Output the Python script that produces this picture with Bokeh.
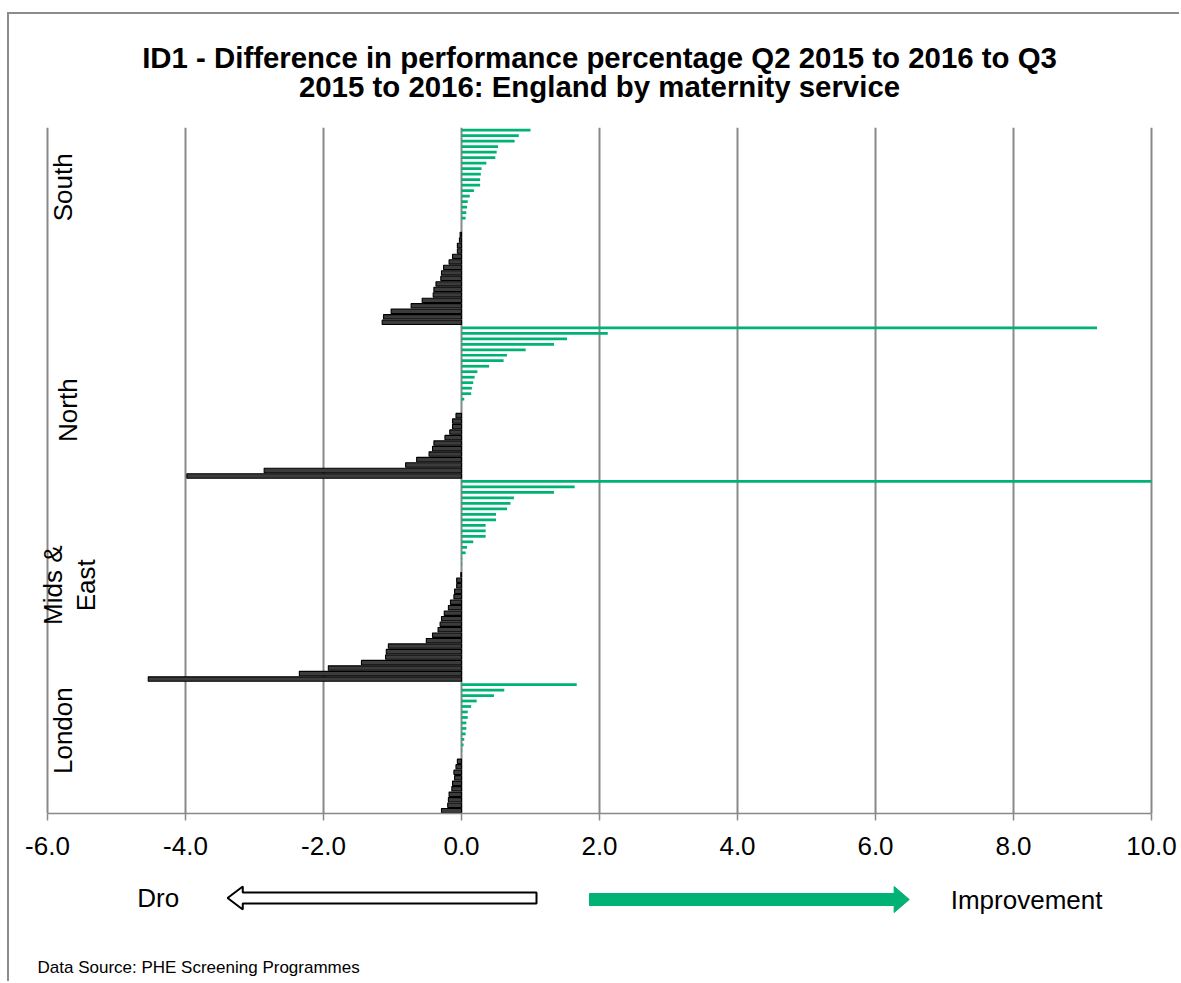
from math import pi
from bokeh.plotting import figure
from bokeh.layouts import column
from bokeh.models import Range1d, FixedTicker, PrintfTickFormatter, ColumnDataSource
from bokeh.core.properties import value
from bokeh.embed import file_html
from bokeh.resources import INLINE

# ---------------- data (top to bottom within each region) ----------------
regions = ["South", "North", "Mids &\nEast", "London"]
south = [1.00, 0.83, 0.77, 0.53, 0.51, 0.49, 0.36, 0.29, 0.28, 0.27, 0.27, 0.18,
         0.12, 0.09, 0.08, 0.07, 0.06, 0.0, 0.0, -0.02, -0.03, -0.06, -0.06, -0.13,
         -0.18, -0.26, -0.29, -0.30, -0.37, -0.40, -0.41, -0.57, -0.73, -1.02,
         -1.13, -1.15]
north = [9.21, 2.12, 1.53, 1.34, 0.93, 0.66, 0.61, 0.40, 0.23, 0.19, 0.17, 0.15,
         0.14, 0.04, 0.0, 0.0, -0.08, -0.13, -0.13, -0.17, -0.24, -0.40, -0.42,
         -0.47, -0.65, -0.81, -2.86, -3.98]
mids = [10.0, 1.64, 1.34, 0.76, 0.71, 0.66, 0.50, 0.50, 0.35, 0.35, 0.35, 0.17,
        0.08, 0.06, 0.01, 0.01, 0.0, -0.01, -0.07, -0.07, -0.10, -0.11, -0.16,
        -0.19, -0.25, -0.29, -0.31, -0.34, -0.42, -0.51, -1.06, -1.09, -1.10,
        -1.45, -1.93, -2.35, -4.54]
london = [1.67, 0.62, 0.47, 0.22, 0.14, 0.09, 0.09, 0.07, 0.07, 0.06, 0.04, 0.03,
          0.01, 0.0, -0.06, -0.08, -0.11, -0.10, -0.13, -0.14, -0.18, -0.19,
          -0.20, -0.29]
region_label_pos = [10.4, 51.0, 82.9, 109.4]     # bar-slot where each region name sits
x_ticks = [-6, -4, -2, 0, 2, 4, 6, 8, 10]

title_lines = ["ID1 - Difference in performance percentage Q2 2015 to 2016 to Q3",
               "2015 to 2016: England by maternity service"]
left_note = "Dro"
right_note = "Improvement"
source_text = "Data Source: PHE Screening Programmes"

# ---------------- build ----------------
values = south + north + mids + london
n = len(values)
idx = list(range(n))
pos_src = ColumnDataSource(dict(y=[i for i, v in zip(idx, values) if v > 0],
                                right=[v for v in values if v > 0]))
neg_src = ColumnDataSource(dict(y=[i for i, v in zip(idx, values) if v < 0],
                                right=[v for v in values if v < 0]))

FONT = "Liberation Sans"
GREEN = "#00B274"
GRID = "#898989"

W = 1170
XMIN, XMAX = -6, 10
PPU = 69.0                                   # pixels per x unit
xr = Range1d(XMIN - 38 / PPU, XMIN + (W - 38) / PPU)   # shared by all panels


def blank(height):
    f = figure(width=W, height=height, x_range=xr, y_range=Range1d(0, height),
               output_backend="svg", toolbar_location=None,
               min_border_left=0, min_border_right=0,
               min_border_top=0, min_border_bottom=0)
    f.axis.visible = False
    f.grid.visible = False
    f.outline_line_color = None
    f.background_fill_color = "white"
    f.border_fill_color = "white"
    return f


# ---------------- header: title ----------------
H0 = 100
p0 = blank(H0)
p0.text(x=[(XMIN + XMAX) / 2] * 2, y=[57, 28], text=title_lines,
        text_align="center", text_baseline="middle",
        text_font=value(FONT), text_font_style="bold",
        text_font_size="29.4px", text_color="black")

# ---------------- main chart ----------------
p = figure(width=W, height=751, x_range=xr, y_range=Range1d(n - 0.5, -0.5),
           output_backend="svg", toolbar_location=None,
           min_border_left=0, min_border_right=0,
           min_border_top=13, min_border_bottom=52)
p.background_fill_color = "white"
p.border_fill_color = "white"
p.outline_line_color = None

p.yaxis.visible = False
p.ygrid.visible = False

p.xaxis.bounds = (XMIN, XMAX)
p.xaxis.ticker = FixedTicker(ticks=x_ticks)
p.xaxis.formatter = PrintfTickFormatter(format="%.1f")
p.xaxis.minor_tick_line_color = None
p.xaxis.major_tick_in = 0
p.xaxis.major_tick_out = 7
p.xaxis.major_tick_line_color = GRID
p.xaxis.major_tick_line_width = 1.5
p.xaxis.axis_line_color = GRID
p.xaxis.axis_line_width = 1.5
p.xaxis.major_label_text_font = FONT
p.xaxis.major_label_text_font_size = "26px"
p.xaxis.major_label_text_color = "black"
p.xaxis.major_label_standoff = 16

p.xgrid.ticker = FixedTicker(ticks=x_ticks)
p.xgrid.grid_line_color = GRID
p.xgrid.grid_line_width = 2
p.xgrid.bounds = (XMIN, XMAX)

p.hbar(y="y", left=0, right="right", height=0.5, source=pos_src,
       fill_color=GREEN, line_color=None)
p.hbar(y="y", left=0, right="right", height=0.8, source=neg_src,
       fill_color="#3c3c3c", line_color="black", line_width=1.1)

# region names
lab_x = [-5.78, -5.70, -5.68, -5.78]
p.text(x=lab_x, y=region_label_pos, text=regions, angle=pi / 2,
       text_align="center", text_baseline="middle",
       text_font=value(FONT), text_font_size="26px", text_color="black",
       text_line_height=1.1)

# ---------------- lower panel: direction arrows and source ----------------
H2 = 116
p2 = blank(H2)

ay = 83.5
p2.patch(x=[-3.39, -3.17, -3.17, 1.087, 1.087, -3.17, -3.17],
         y=[ay, ay + 11.5, ay + 5.5, ay + 5.5, ay - 5.5, ay - 5.5, ay - 11.5],
         fill_color="white", line_color="black", line_width=2)
gy = 82
p2.patch(x=[1.855, 6.27, 6.27, 6.49, 6.27, 6.27, 1.855],
         y=[gy + 6, gy + 6, gy + 13, gy, gy - 13, gy - 6, gy - 6],
         fill_color=GREEN, line_color=GREEN, line_width=1)

p2.text(x=[-4.70, 7.09], y=[ay, gy], text=[left_note, right_note],
        text_align="left", text_baseline="middle",
        text_font=value(FONT), text_font_size="26px", text_color="black")
p2.text(x=[-6.145], y=[14], text=[source_text],
        text_align="left", text_baseline="middle",
        text_font=value(FONT), text_font_size="17px", text_color="black")

layout = column(p0, p, p2, styles={"border-left": "2px solid #8c8c8c",
                                   "border-top": "2px solid #8c8c8c",
                                   "margin-left": "7px", "margin-top": "12px"})

open("out.html", "w").write(file_html(layout, INLINE))
